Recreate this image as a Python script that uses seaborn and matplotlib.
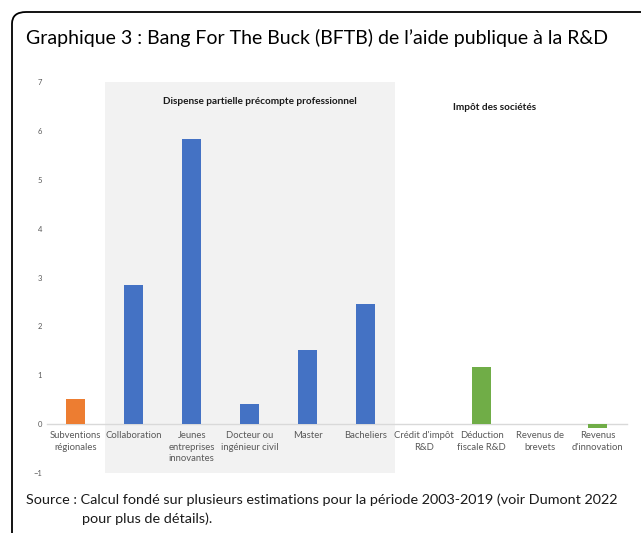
import seaborn as sns
import matplotlib.pyplot as plt
import pandas as pd
from matplotlib.patches import FancyBboxPatch

# Données
categories = [
    "Subventions\nrégionales", "Collaboration", "Jeunes\nentreprises\ninnovantes",
    "Docteur ou\ningénieur civil", "Master", "Bacheliers", "Crédit d'impôt\nR&D",
    "Déduction\nfiscale R&D", "Revenus de\nbrevets", "Revenus\nd'innovation",
]
valeurs = [0.52, 2.84, 5.84, 0.41, 1.51, 2.45, 0.0, 1.16, 0.0, -0.07]
groupes = ["Régional"] + ["Précompte"] * 5 + ["ISOC"] * 4
couleurs = {"Régional": "#ED7D31", "Précompte": "#4472C4", "ISOC": "#70AD47"}

df = pd.DataFrame({"Catégorie": categories, "BFTB": valeurs, "Groupe": groupes})
palette = [couleurs[g] for g in groupes]

sns.set_style("white")
plt.rcParams["font.family"] = ["Lato", "DejaVu Sans"]

fig = plt.figure(figsize=(6.41, 5.33), dpi=100)
ax = fig.add_axes([0.073, 0.1126, 0.905, 0.7334])

# Zone grise : dispense partielle de précompte professionnel
ax.axvspan(0.5, 5.5, color="#F2F2F2", zorder=0, lw=0)

sns.barplot(data=df, x="Catégorie", y="BFTB", hue="Catégorie", palette=palette,
            dodge=False, width=0.33, legend=False, saturation=1, linewidth=0,
            ax=ax, zorder=2)

ax.set_ylim(-1, 7)
ax.set_xlim(-0.5, 9.5)
ax.set_yticks(range(-1, 8))
ax.set_xlabel("")
ax.set_ylabel("")
sns.despine(ax=ax, left=True)
ax.spines["bottom"].set_position(("data", 0))
ax.spines["bottom"].set_color("#D9D9D9")
ax.spines["bottom"].set_linewidth(1)
ax.spines["bottom"].set_zorder(1)
ax.tick_params(axis="both", length=0, colors="#595959")
ax.tick_params(axis="y", labelsize=5.5)
ax.tick_params(axis="x", labelsize=6.8, pad=5)
for lab in ax.get_xticklabels():
    lab.set_linespacing(1.35)
ax.set_facecolor("none")

ax.text(3.17, 6.61, "Dispense partielle précompte professionnel", ha="center",
        va="center", fontsize=7.2, fontweight="bold", color="#1a1a1a")
ax.text(7.22, 6.49, "Impôt des sociétés", ha="center", va="center",
        fontsize=7.2, fontweight="bold", color="#1a1a1a")

# Cadre arrondi
W, H = 641, 533
cadre = FancyBboxPatch((12 / W, -0.1), 1.2, (H - 12) / H + 0.1,
                       boxstyle="round,pad=0,rounding_size=0.022",
                       transform=fig.transFigure, fill=False,
                       ec="black", lw=1.3, clip_on=False)
fig.patches.append(cadre)

fig.text(26 / W, 1 - 38 / H, "Graphique 3 : Bang For The Buck (BFTB) de l’aide publique à la R&D",
         fontsize=14, va="center", ha="left", color="black")
fig.text(26 / W, 1 - 500 / H,
         "Source : Calcul fondé sur plusieurs estimations pour la période 2003-2019 (voir Dumont 2022",
         fontsize=10.4, va="center", ha="left", color="#1a1a1a")
fig.text(82 / W, 1 - 519 / H, "pour plus de détails).",
         fontsize=10.4, va="center", ha="left", color="#1a1a1a")

fig.savefig("out.png", dpi=100)
